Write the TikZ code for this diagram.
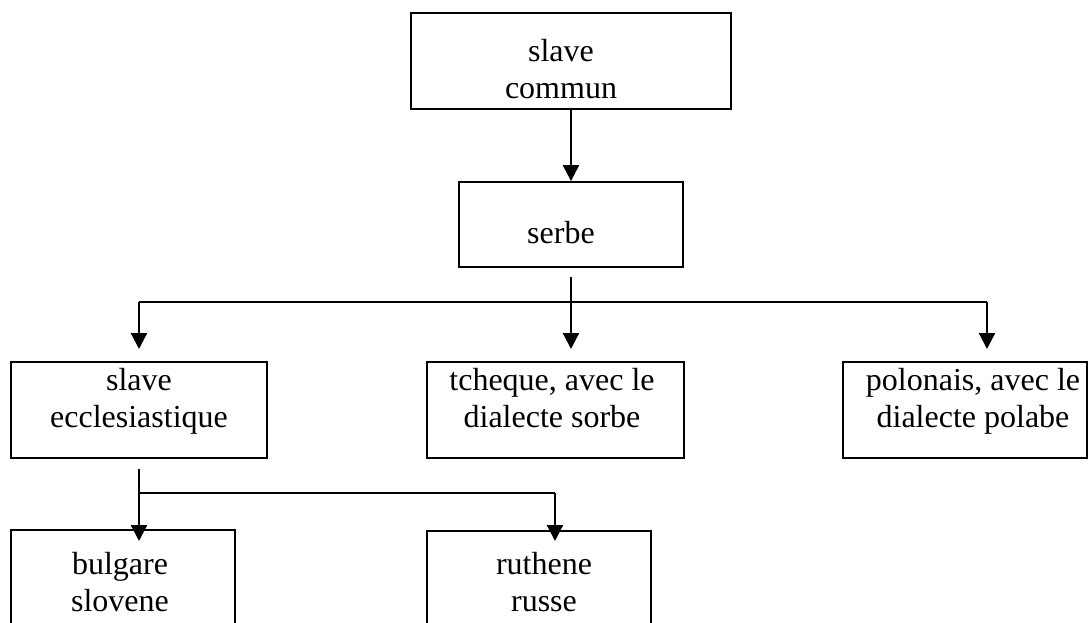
\documentclass[tikz,border=0pt]{standalone}
\usepackage{fontspec}
\setmainfont{Liberation Serif}
\usetikzlibrary{arrows.meta}
\tikzset{
  box/.style={draw, line width=1.8pt, inner sep=0pt, rectangle},
  lbl/.style={inner sep=0pt, anchor=base, font=\fontsize{32}{37}\selectfont},
  arr/.style={line width=2.2pt, -{Triangle[width=16pt,length=16pt]}},
  ln/.style={line width=2.2pt}
}
\newcommand{\twol}[2]{\begin{tabular}[t]{@{}c@{}}#1\\#2\end{tabular}}
\begin{document}
\begin{tikzpicture}[x=1pt,y=-1pt]
\useasboundingbox (0,0) rectangle (1089,622);
\clip (0,0) rectangle (1089,622);
% boxes
\node[box, minimum width=320pt, minimum height=96pt] (top) at (571,61) {};
\node[box, minimum width=224pt, minimum height=85pt] (serbe) at (571,224.5) {};
\node[box, minimum width=256pt, minimum height=96pt] (eccl) at (139,410) {};
\node[box, minimum width=257pt, minimum height=96pt] (tch) at (555.5,410) {};
\node[box, minimum width=244pt, minimum height=96pt] (pol) at (965,410) {};
\node[box, minimum width=224pt, minimum height=120pt] (bul) at (123,590) {};
\node[box, minimum width=224pt, minimum height=120pt] (rut) at (539,591) {};
% texts
\node[lbl] (ttop) at (561,61) {\twol{slave}{commun}};
\node[lbl] (tserbe) at (561,243) {serbe};
\node[lbl] (teccl) at (139,390) {\twol{slave}{ecclesiastique}};
\node[lbl] (ttch) at (552,390) {\twol{tcheque, avec le}{dialecte sorbe}};
\node[lbl] (tpol) at (973,390) {\twol{polonais, avec le}{dialecte polabe}};
\node[lbl] (tbul) at (120,574) {\twol{bulgare}{slovene}};
\node[lbl] (trut) at (544,574) {\twol{ruthene}{russe}};
% junction coordinates
\coordinate (s0) at (571,277);
\coordinate (sj) at (571,302);
\coordinate (sl) at (139,302);
\coordinate (sr) at (987,302);
\coordinate (e0) at (139,469);
\coordinate (ej) at (139,493);
\coordinate (er) at (555,493);
% connectors
\draw[arr] (top.south) -- (serbe.north);
\draw[ln] (sl) -- (sr);
\draw[arr] (s0) -- (571,349);
\draw[arr] (sl) -- (139,349);
\draw[arr] (sr) -- (987,349);
\draw[ln] (ej) -- (er);
\draw[arr] (e0) -- (139,541);
\draw[arr] (er) -- (555,541);
\end{tikzpicture}
\end{document}
